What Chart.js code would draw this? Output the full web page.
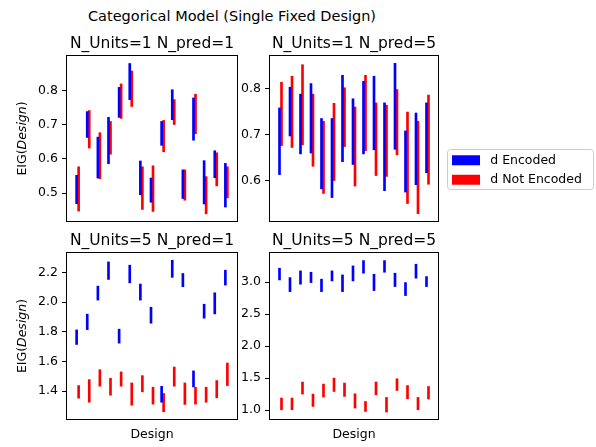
<!DOCTYPE html>
<html>
<head>
<meta charset="utf-8">
<script src="https://cdn.jsdelivr.net/npm/chart.js@4.4.1/dist/chart.umd.min.js"></script>
<style>
  body { margin: 0; background: #fff; }
  #fig { position: relative; width: 596px; height: 447px; overflow: hidden; background: #fff; }
  #fig canvas { position: absolute; }
  #suptitle { position: absolute; left: 0; top: 6px; width: 464px; text-align: center;
              font: 14.5px "DejaVu Sans", sans-serif; line-height: 20px; color: #000; }
</style>
</head>
<body>
<div id="fig">
  <div id="suptitle">Categorical Model (Single Fixed Design)</div>
  <canvas id="tl" width="240" height="189" style="left:0;top:34px"></canvas>
  <canvas id="tr" width="201" height="189" style="left:240px;top:34px"></canvas>
  <canvas id="bl" width="240" height="213" style="left:0;top:231px"></canvas>
  <canvas id="br" width="201" height="213" style="left:240px;top:231px"></canvas>
  <canvas id="leg" width="151" height="60" style="left:445px;top:147px"></canvas>
</div>
<script>
// design index on the x axis
var designs = [1, 2, 3, 4, 5, 6, 7, 8, 9, 10, 11, 12, 13, 14, 15];

// N_Units=1 N_pred=1
var tlEncHi = [0.552, 0.739, 0.664, 0.722, 0.810, 0.880, 0.594, 0.544, 0.710, 0.803, 0.568, 0.779, 0.595, 0.624, 0.587];
var tlEncLo = [0.469, 0.663, 0.544, 0.586, 0.722, 0.774, 0.495, 0.473, 0.640, 0.715, 0.484, 0.655, 0.468, 0.545, 0.459];
var tlNotHi = [0.577, 0.742, 0.677, 0.710, 0.820, 0.858, 0.577, 0.580, 0.713, 0.774, 0.568, 0.790, 0.548, 0.618, 0.577];
var tlNotLo = [0.447, 0.632, 0.542, 0.614, 0.719, 0.754, 0.452, 0.446, 0.621, 0.701, 0.479, 0.674, 0.439, 0.521, 0.486];

// N_Units=1 N_pred=5
var trEncHi = [0.758, 0.803, 0.788, 0.811, 0.735, 0.735, 0.829, 0.778, 0.816, 0.827, 0.769, 0.855, 0.708, 0.747, 0.769];
var trEncLo = [0.613, 0.697, 0.658, 0.660, 0.582, 0.563, 0.641, 0.635, 0.658, 0.667, 0.578, 0.668, 0.575, 0.591, 0.617];
var trNotHi = [0.814, 0.827, 0.852, 0.788, 0.729, 0.768, 0.802, 0.760, 0.829, 0.769, 0.764, 0.798, 0.749, 0.729, 0.786];
var trNotLo = [0.676, 0.672, 0.678, 0.631, 0.572, 0.600, 0.674, 0.588, 0.665, 0.611, 0.609, 0.656, 0.550, 0.528, 0.592];

// N_Units=5 N_pred=1
var blEncHi = [1.813, 1.919, 2.108, 2.271, 1.818, 2.249, 2.122, 1.965, 1.433, 2.282, 2.193, 1.537, 1.986, 2.063, 2.215];
var blEncLo = [1.715, 1.815, 2.014, 2.153, 1.724, 2.130, 2.014, 1.858, 1.326, 2.167, 2.104, 1.429, 1.892, 1.921, 2.115];
var blNotHi = [1.438, 1.478, 1.545, 1.487, 1.530, 1.456, 1.505, 1.427, 1.385, 1.563, 1.456, 1.427, 1.427, 1.472, 1.590];
var blNotLo = [1.353, 1.326, 1.434, 1.373, 1.434, 1.306, 1.396, 1.313, 1.262, 1.434, 1.311, 1.313, 1.326, 1.356, 1.438];

// N_Units=5 N_pred=5
var brEncHi = [3.219, 3.072, 3.177, 3.156, 3.047, 3.177, 3.114, 3.255, 3.338, 3.125, 3.338, 3.141, 2.994, 3.281, 3.088];
var brEncLo = [3.036, 2.853, 2.969, 2.994, 2.853, 3.020, 2.853, 3.020, 3.141, 2.869, 3.156, 2.932, 2.791, 3.063, 2.932];
var brNotHi = [1.188, 1.188, 1.438, 1.250, 1.406, 1.500, 1.422, 1.255, 1.134, 1.438, 1.197, 1.489, 1.384, 1.197, 1.369];
var brNotLo = [1.005, 1.005, 1.250, 1.056, 1.203, 1.291, 1.213, 1.031, 0.978, 1.239, 0.969, 1.306, 1.177, 1.005, 1.172];

// y tick values
var tlTicks = [0.5, 0.6, 0.7, 0.8];
var trTicks = [0.6, 0.7, 0.8];
var blTicks = [1.4, 1.6, 1.8, 2.0, 2.2];
var brTicks = [1.0, 1.5, 2.0, 2.5, 3.0];

Chart.defaults.font.family = "'DejaVu Sans', sans-serif";
Chart.defaults.color = '#000';

// full box around each plot area
var boxPlugin = {
    id: 'axesBox',
    afterDraw: function (chart) {
        var a = chart.chartArea, c = chart.ctx;
        c.save();
        c.strokeStyle = '#000';
        c.lineWidth = 1;
        c.strokeRect(Math.round(a.left) - 0.5, Math.round(a.top) - 0.5,
            Math.round(a.right - a.left) + 1, Math.round(a.bottom - a.top) + 1);
        c.restore();
    }
};

// rotated "EIG(Design)" with italic Design
var ylabelPlugin = {
    id: 'ylabel',
    afterDraw: function (chart) {
        var a = chart.chartArea, c = chart.ctx;
        var parts = [['EIG(', 'normal'], ['Design', 'italic'], [')', 'normal']];
        c.save();
        c.translate(23, (a.top + a.bottom) / 2);
        c.rotate(-Math.PI / 2);
        c.textBaseline = 'middle';
        c.fillStyle = '#000';
        var total = 0;
        parts.forEach(function (p) {
            c.font = p[1] + ' 12.5px "DejaVu Sans"';
            total += c.measureText(p[0]).width;
        });
        var x = -total / 2;
        parts.forEach(function (p) {
            c.font = p[1] + ' 12.5px "DejaVu Sans"';
            c.fillText(p[0], x, 0);
            x += c.measureText(p[0]).width;
        });
        c.restore();
    }
};

function bars(lo, hi) {
    return designs.map(function (d, i) { return {x: d, y: [lo[i], hi[i]]}; });
}

function makePanel(id, title, encLo, encHi, notLo, notHi, ymin, ymax, ticks, axisWidth, bottom, left) {
    var xScale = {type: 'linear', min: 0, max: 16, offset: false, display: false};
    if (bottom) {
        xScale = {
            type: 'linear', min: 0, max: 16, offset: false,
            ticks: {display: false},
            grid: {display: false, drawTicks: false},
            border: {display: false},
            title: {display: true, text: 'Design', color: '#000',
                    font: {size: 12.5, lineHeight: '15px'}, padding: {top: 8, bottom: 2}}
        };
    }
    new Chart(document.getElementById(id), {
        type: 'bar',
        data: {
            datasets: [{
                label: 'd Encoded',
                data: bars(encLo, encHi),
                backgroundColor: '#0000ff',
                borderWidth: 0,
                barThickness: 2
            }, {
                label: 'd Not Encoded',
                data: bars(notLo, notHi),
                backgroundColor: '#ff0000',
                borderWidth: 0,
                barThickness: 2
            }]
        },
        options: {
            responsive: false,
            animation: false,
            events: [],
            layout: {padding: {left: 0, right: 3, top: 0, bottom: bottom ? 0 : 2}},
            scales: {
                x: xScale,
                y: {
                    min: ymin, max: ymax,
                    afterBuildTicks: function (s) { s.ticks = ticks.map(function (v) { return {value: v}; }); },
                    afterFit: function (s) { s.width = axisWidth; s.paddingTop = 0; s.paddingBottom = 0; },
                    ticks: {padding: 4, color: '#000', font: {size: 12.5},
                            callback: function (v) { return Number(v).toFixed(1); }},
                    grid: {drawOnChartArea: false, drawTicks: true, tickLength: 5,
                           tickColor: '#000', tickWidth: 1},
                    border: {display: false}
                }
            },
            plugins: {
                legend: {display: false},
                tooltip: {enabled: false},
                title: {
                    display: true, text: title, color: '#000', fullSize: false,
                    font: {size: 15.5, weight: 'normal', lineHeight: '19px'},
                    padding: {top: 0, bottom: 3}
                }
            }
        },
        plugins: left ? [boxPlugin, ylabelPlugin] : [boxPlugin]
    });
}

makePanel('tl', 'N_Units=1 N_pred=1', tlEncLo, tlEncHi, tlNotLo, tlNotHi, 0.418, 0.902, tlTicks, 67, false, true);
makePanel('tr', 'N_Units=1 N_pred=5', trEncLo, trEncHi, trNotLo, trNotHi, 0.512, 0.871, trTicks, 30, false, false);
makePanel('bl', 'N_Units=5 N_pred=1', blEncLo, blEncHi, blNotLo, blNotHi, 1.213, 2.331, blTicks, 67, true, true);
makePanel('br', 'N_Units=5 N_pred=5', brEncLo, brEncHi, brNotLo, brNotHi, 0.86, 3.457, brTicks, 30, true, false);

// legend frame
var framePlugin = {
    id: 'legendFrame',
    afterDraw: function (chart) {
        var c = chart.ctx;
        c.save();
        c.strokeStyle = '#cccccc';
        c.lineWidth = 1;
        c.beginPath();
        c.roundRect(2.5, 2.5, 146, 40, 3);
        c.stroke();
        c.restore();
    }
};

new Chart(document.getElementById('leg'), {
    type: 'bar',
    data: {
        labels: [],
        datasets: [
            {label: ' d Encoded', data: [], backgroundColor: '#0000ff', borderWidth: 0},
            {label: ' d Not Encoded', data: [], backgroundColor: '#ff0000', borderWidth: 0}
        ]
    },
    options: {
        responsive: false,
        animation: false,
        events: [],
        layout: {padding: 0},
        scales: {x: {display: false}, y: {display: false}},
        plugins: {
            tooltip: {enabled: false},
            legend: {
                position: 'top', align: 'start', maxHeight: 60,
                labels: {boxWidth: 28, boxHeight: 10, padding: 7, color: '#000', font: {size: 12.5}}
            }
        }
    },
    plugins: [framePlugin]
});
</script>
</body>
</html>
